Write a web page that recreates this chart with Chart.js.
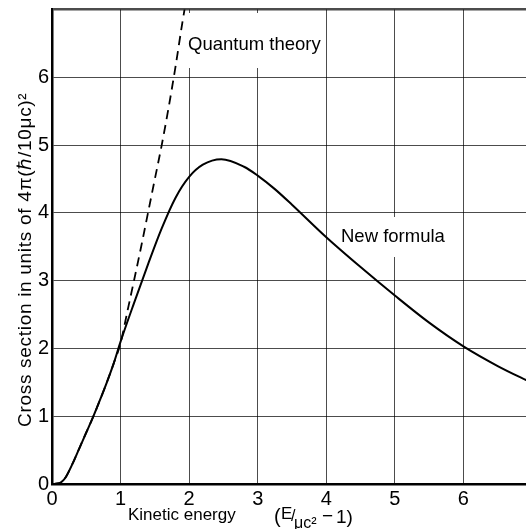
<!DOCTYPE html>
<html>
<head>
<meta charset="utf-8">
<script src="https://cdn.jsdelivr.net/npm/chart.js@4.4.1/dist/chart.umd.min.js"></script>
<style>
  html, body { margin: 0; padding: 0; background: #fff; overflow: hidden; }
  #wrap { width: 545px; height: 529px; }
</style>
</head>
<body>
<div id="wrap"><canvas id="c" width="545" height="529"></canvas></div>
<script>
// ---- data ----
const newFormulaX = [0, 0.1, 0.15, 0.2, 0.3, 0.4, 0.5, 0.6, 0.7, 0.8, 0.9, 1.0, 1.2, 1.4, 1.6, 1.8, 2.0, 2.2, 2.47, 2.8, 3.0, 3.25, 3.5, 4.0, 4.5, 5.0, 5.5, 6.0, 6.5, 7.0];
const newFormulaY = [0, 0.01, 0.04, 0.1, 0.3, 0.53, 0.76, 0.99, 1.24, 1.5, 1.78, 2.1, 2.68, 3.24, 3.77, 4.22, 4.53, 4.71, 4.79, 4.68, 4.55, 4.35, 4.12, 3.64, 3.2, 2.78, 2.38, 2.03, 1.74, 1.49];
const quantumX = [0, 0.1, 0.15, 0.2, 0.3, 0.4, 0.5, 0.6, 0.7, 0.8, 0.9, 1.0, 1.1, 1.2, 1.3, 1.4, 1.5, 1.6, 1.7, 1.8, 1.9, 2.0];
const quantumY = [0, 0.01, 0.04, 0.1, 0.3, 0.53, 0.76, 0.99, 1.24, 1.5, 1.78, 2.08, 2.55, 3.02, 3.5, 4.0, 4.5, 5.0, 5.55, 6.15, 6.8, 7.4];
const xTicks = [0, 1, 2, 3, 4, 5, 6, 7];
const yTicks = [0, 1, 2, 3, 4, 5, 6];
const yTitle = 'Cross section in units of 4π(ℏ/10μc)²';
const xTitle = 'Kinetic energy';
const curveLabels = ['Quantum theory', 'New formula'];

const toPts = (xs, ys) => xs.map((x, i) => ({ x: x, y: ys[i] }));
const FONT = '"Liberation Sans", Arial, sans-serif';

const textPlugin = {
  id: 'texts',
  beforeDatasetsDraw(chart) {
    const ctx = chart.ctx;
    ctx.save();
    ctx.fillStyle = '#fff';
    ctx.fillRect(187, 13, 135, 55);
    ctx.fillRect(336, 217, 116, 40);
    ctx.restore();
  },
  afterDatasetsDraw(chart) {
    const ctx = chart.ctx;
    ctx.save();
    ctx.fillStyle = '#000';
    ctx.textBaseline = 'alphabetic';
    ctx.textAlign = 'left';
    // curve labels
    ctx.font = '18.5px ' + FONT;
    ctx.fillText(curveLabels[0], 188, 50);
    ctx.fillText(curveLabels[1], 341, 242);
    // x title
    ctx.font = '17px ' + FONT;
    ctx.fillText(xTitle, 128, 520);
    ctx.font = '20px ' + FONT;
    ctx.fillText('(', 274, 523);
    ctx.font = '17px ' + FONT;
    ctx.fillText('E', 281, 519);
    ctx.font = '16px ' + FONT;
    ctx.fillText('/', 291, 521);
    ctx.fillText('μc²', 294, 528);
    ctx.font = '19px ' + FONT;
    ctx.fillText('−', 322, 522);
    ctx.fillText('1)', 336, 523);
    // y title
    ctx.translate(31, 427);
    ctx.rotate(-Math.PI / 2);
    ctx.font = '19px ' + FONT;
    if ('letterSpacing' in ctx) ctx.letterSpacing = '0.7px';
    ctx.fillText(yTitle, 0, 0);
    ctx.restore();
  }
};

new Chart(document.getElementById('c'), {
  type: 'line',
  data: {
    datasets: [
      {
        label: curveLabels[1],
        data: toPts(newFormulaX, newFormulaY),
        borderColor: '#000',
        borderWidth: 2,
        pointRadius: 0,
        cubicInterpolationMode: 'monotone',
        fill: false
      },
      {
        label: curveLabels[0],
        data: toPts(quantumX, quantumY),
        borderColor: '#000',
        borderWidth: 1.8,
        borderDash: [9, 6],
        pointRadius: 0,
        cubicInterpolationMode: 'monotone',
        fill: false
      }
    ]
  },
  options: {
    responsive: false,
    animation: false,
    devicePixelRatio: 1,
    layout: { padding: { top: 9.5, right: 13, left: 0, bottom: 0 } },
    plugins: { legend: { display: false }, tooltip: { enabled: false } },
    scales: {
      x: {
        type: 'linear',
        min: 0, max: 7,
        afterBuildTicks: (s) => { s.ticks = xTicks.map(v => ({ value: v })); },
        afterFit: (s) => { s.height = 45; s.paddingLeft = 0; s.paddingRight = 0; },
        grid: {
          color: 'rgba(0,0,0,0.7)',
          lineWidth: 1,
          drawTicks: false
        },
        border: { display: true, color: '#000', width: 2.5 },
        ticks: {
          color: '#000',
          font: { family: FONT, size: 20 },
          padding: 3,
          maxRotation: 0,
          autoSkip: false
        }
      },
      y: {
        type: 'linear',
        min: 0, max: 7,
        afterBuildTicks: (s) => { s.ticks = yTicks.concat([7]).map(v => ({ value: v })); },
        afterFit: (s) => { s.width = 52; s.paddingTop = 0; s.paddingBottom = 0; },
        grid: {
          color: 'rgba(0,0,0,0.7)',
          lineWidth: (c) => (c.tick && c.tick.value === 7 ? 2.5 : 1),
          drawTicks: false
        },
        border: { display: true, color: '#000', width: 2.5 },
        ticks: {
          color: '#000',
          font: { family: FONT, size: 20 },
          padding: 3,
          autoSkip: false,
          callback: (v) => (yTicks.includes(v) ? String(v) : '')
        }
      }
    }
  },
  plugins: [textPlugin]
});
</script>
</body>
</html>
